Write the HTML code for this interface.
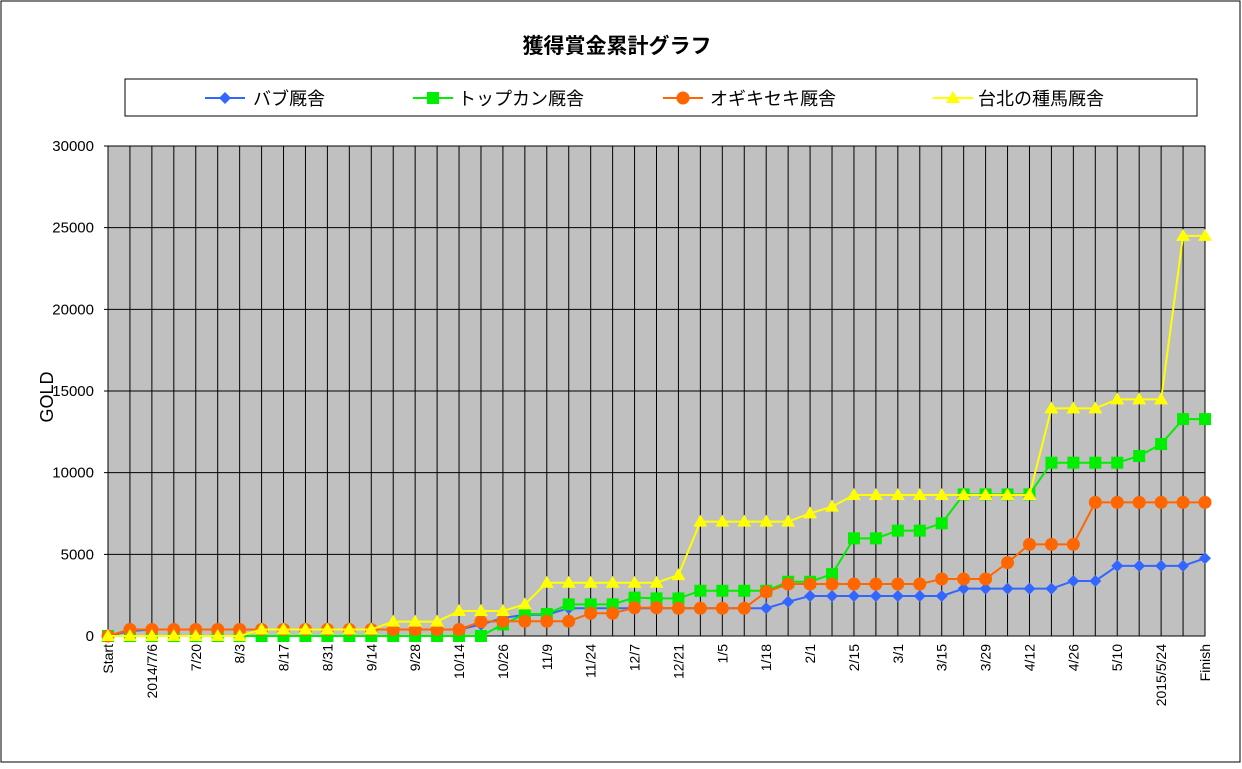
<!DOCTYPE html>
<html><head><meta charset="utf-8"><style>
body{margin:0;background:#fff;}
svg text{font-family:"Liberation Sans","Noto Sans CJK JP",sans-serif;}
</style></head><body>
<svg id="c" width="1242" height="764" xmlns="http://www.w3.org/2000/svg">
<rect x="1" y="1" width="1239" height="761" fill="#fff" stroke="#000"/>
<text x="617" y="53" text-anchor="middle" font-size="21" font-weight="bold">獲得賞金累計グラフ</text>
<g>
<rect x="125" y="79" width="1072" height="37" fill="#fff" stroke="#000"/>
</g>
<g id="plot"></g>
<text transform="translate(53,397) rotate(-90)" text-anchor="middle" font-size="18">GOLD</text>
</svg>
<script>
const categories=["Start","","2014/7/6","","7/20","","8/3","","8/17","","8/31","","9/14","","9/28","","10/14","","10/26","","11/9","","11/24","","12/7","","12/21","","1/5","","1/18","","2/1","","2/15","","3/1","","3/15","","3/29","","4/12","","4/26","","5/10","","2015/5/24","","Finish"];
const yTicks=[0,5000,10000,15000,20000,25000,30000];
const seriesNames=["バブ厩舎","トップカン厩舎","オギキセキ厩舎","台北の種馬厩舎"];
const bab=[0,300,400,400,400,400,400,400,400,400,400,400,400,400,400,400,400,700,1100,1300,1300,1700,1700,1700,1700,1700,1700,1700,1700,1700,1700,2100,2450,2450,2450,2450,2450,2450,2450,2900,2900,2900,2900,2900,3370,3370,4290,4290,4290,4290,4760];
const topkan=[0,0,0,0,0,0,0,0,0,0,0,0,0,0,0,0,0,0,710,1350,1350,1940,1940,1940,2350,2300,2300,2770,2770,2770,2770,3320,3320,3790,5980,5980,6450,6450,6900,8670,8670,8670,8670,10610,10610,10610,10610,11020,11750,13280,13280];
const ogi=[0,400,400,400,400,400,400,400,400,400,400,400,400,400,400,400,400,880,900,900,900,900,1390,1390,1730,1730,1700,1700,1700,1700,2700,3180,3180,3180,3180,3180,3180,3180,3490,3490,3490,4490,5610,5610,5610,8180,8180,8180,8180,8180,8180];
const taipei=[0,0,0,0,0,0,0,400,400,400,400,400,400,880,880,880,1530,1530,1530,1940,3260,3260,3260,3260,3260,3260,3730,7000,7000,7000,7000,7000,7510,7920,8630,8630,8630,8630,8630,8630,8630,8630,8630,13940,13940,13940,14490,14490,14490,24500,24500];
const NS="http://www.w3.org/2000/svg";
const svg=document.getElementById('c');const plot=document.getElementById('plot');
const X0=108,X1=1205,Y0=636,Y1=146,YMAX=30000;
const n=categories.length;
const xs=i=>X0+(X1-X0)*i/(n-1);
const ys=v=>Y0-(Y0-Y1)*v/YMAX;
function mk(t,a,p){const e=document.createElementNS(NS,t);for(const k in a)e.setAttribute(k,a[k]);(p||plot).appendChild(e);return e;}
const bg=mk('rect',{x:X0,y:Y1,width:X1-X0,height:Y0-Y1,fill:'#c0c0c0'});


for(let i=0;i<n;i++){const l=mk('line',{x1:xs(i),x2:xs(i),y1:Y1,y2:Y0,stroke:'#000','stroke-width':1});


if(categories[i]){const t=mk('text',{transform:`translate(${xs(i)+5},${Y0+8}) rotate(-90)`,'text-anchor':'end','font-size':14});t.textContent=categories[i];

}}
yTicks.forEach(v=>{const l=mk('line',{x1:X0-4,x2:X1,y1:ys(v),y2:ys(v),stroke:'#000','stroke-width':1});


const t=mk('text',{x:94,y:ys(v)+5,'text-anchor':'end','font-size':15});t.textContent=v;

});
const ax=mk('rect',{x:X0,y:Y1,width:X1-X0,height:Y0-Y1,fill:'none',stroke:'#000'});


const colors=["#3366ff","#00ee00","#ff6600","#ffff00"];
const shapes=["diamond","square","circle","triangle"];
function marker(g,s,x,y,c){let e;
if(s==='diamond')e=mk('polygon',{points:`${x},${y-6} ${x+6},${y} ${x},${y+6} ${x-6},${y}`,fill:c},g);
else if(s==='square')e=mk('rect',{x:x-6,y:y-6,width:12,height:12,fill:c},g);
else if(s==='circle')e=mk('circle',{cx:x,cy:y,r:6.5,fill:c},g);
else e=mk('polygon',{points:`${x},${y-7} ${x+7},${y+5} ${x-7},${y+5}`,fill:c},g);

}
[bab,topkan,ogi,taipei].forEach((d,k)=>{const g=mk('g',{});


const p=mk('polyline',{points:d.map((v,i)=>xs(i)+','+ys(v)).join(' '),fill:'none',stroke:colors[k],'stroke-width':2},g);


d.forEach((v,i)=>marker(g,shapes[k],xs(i),ys(v),colors[k]));});
const lx=[205,413,663,933],tx=[253,458,710,978];
seriesNames.forEach((nm,k)=>{const g=mk('g',{},svg);


mk('line',{x1:lx[k],x2:lx[k]+40,y1:98,y2:98,stroke:colors[k],'stroke-width':2},g);
marker(g,shapes[k],lx[k]+20,98,colors[k]);
const t=mk('text',{x:tx[k],y:105,'font-size':18},g);t.textContent=nm;

});
</script>
</body></html>
